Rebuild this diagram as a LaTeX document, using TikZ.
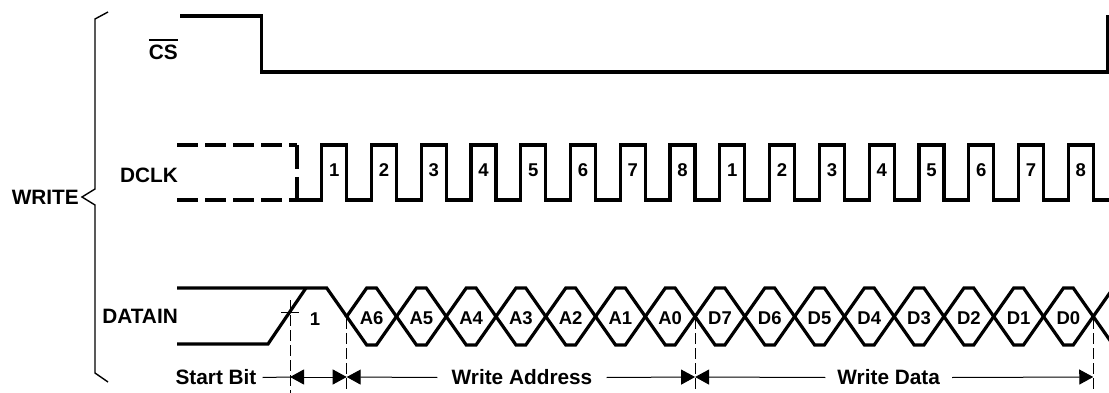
\documentclass[tikz,border=0pt]{standalone}
\usepackage{fontspec}
\setmainfont{Liberation Sans}
\usetikzlibrary{arrows.meta}
\newcommand{\barred}[1]{\setbox0\hbox{#1}\rlap{\rule[\dimexpr\ht0+4pt\relax]{\wd0}{2pt}}\box0}
\begin{document}
\begin{tikzpicture}[x=1pt,y=-1pt,
  sig/.style={line width=3.2pt, line join=miter},
  dsig/.style={line width=3.2pt, dash pattern=on 21pt off 7pt},
  thinl/.style={line width=1pt},
  brace/.style={line width=1.4pt, line join=miter},
  dv/.style={line width=1pt, dash pattern=on 11pt off 4pt},
  dim/.style={line width=1pt, >={Triangle[length=14pt,width=15pt]}},
  lab/.style={font=\fontsize{20.8}{24}\selectfont\bfseries, inner sep=0pt},
  nlab/.style={font=\fontsize{18.5}{22}\selectfont\bfseries, inner sep=0pt}]
\useasboundingbox (0,0) rectangle (1109,393);
\def\per{49.77}
% ---- labels
\node[lab, anchor=base east] (cs) at (178,60) {\barred{CS}};
\node[lab, anchor=east] (dclk) at (178,175.5) {DCLK};
\node[lab, anchor=east] (datain) at (178,316) {DATAIN};
\node[lab, anchor=east] (write) at (79,197) {WRITE};
% ---- brace
\draw[brace] (108,12) -- (95,19) -- (95,189) -- (82,197) -- (95,205) -- (95,373) -- (108,382);
% ---- CS signal
\draw[sig] (180,16) -- (261.7,16) -- (261.7,72) -- (1108,72) -- (1108,15);
% ---- DCLK signal
\draw[dsig] (177,145) -- (297,145);
\draw[dsig] (177,200) -- (297,200);
\draw[sig] (297,145) -- (297,169);
\draw[sig] (297,177) -- (297,200) -- (321.7,200)
  \foreach \k in {0,...,15} {
    -- ({321.7+\per*\k},200) -- ({321.7+\per*\k},145) -- ({346.7+\per*\k},145) -- ({346.7+\per*\k},200)
  } -- (1115,200);
\foreach \k/\lab in {0/1,1/2,2/3,3/4,4/5,5/6,6/7,7/8,8/1,9/2,10/3,11/4,12/5,13/6,14/7,15/8} {
  \node[nlab] (n\k) at ({321.7+\per*\k+12.5},170) {\lab};
}
% ---- DATAIN signal
\pgfmathsetmacro\cz{346.7}
\draw[sig] (177,344) -- (268,344) -- (306,288);
\draw[sig] (177,288) -- ({\cz-20},288) -- (\cz,316.5);
\foreach \k/\lab in {0/A6,1/A5,2/A4,3/A3,4/A2,5/A1,6/A0,7/D7,8/D6,9/D5,10/D4,11/D3,12/D2,13/D1,14/D0} {
  \pgfmathsetmacro\ca{346.7+\per*\k}
  \pgfmathsetmacro\cb{\ca+\per}
  \draw[sig] (\ca,316.5) -- ({\ca+20},288) -- ({\cb-20},288) -- (\cb,316.5) -- ({\cb-20},345) -- ({\ca+20},345) -- cycle;
  \node[nlab] (d\k) at ({(\ca+\cb)/2},318.5) {\lab};
}
\pgfmathsetmacro\cf{346.7+15*\per}
\draw[sig] ({\cf+24},283) -- ({\cf+20},288) -- (\cf,316.5) -- ({\cf+20},345) -- ({\cf+24},350);
\node[nlab] (sbit) at (315,319) {1};
\draw[thinl] (281,312) -- (299,312);
% ---- timing marks
\pgfmathsetmacro\cs{346.7+7*\per}
\coordinate (v1) at (290,377);
\coordinate (v2) at (\cz,377);
\coordinate (v3) at (\cs,377);
\coordinate (v4) at (\cf,377);
\draw[dv] (290,300) -- (290,393);
\draw[dv] (\cz,318) -- (\cz,393);
\draw[dv] (\cs,318) -- (\cs,393);
\draw[dv] (\cf,318) -- (\cf,393);
\node[lab] (sb) at (216,377.5) {Start Bit};
\node[lab] (wa) at (522,377.5) {Write Address};
\node[lab] (wd) at (888.7,377.5) {Write Data};
\draw[dim] ([xshift=6pt]sb.east) -- (v1);
\draw[dim,<->] (v1) -- (v2);
\draw[dim,->] ([xshift=-14pt]wa.west) -- (v2);
\draw[dim,->] ([xshift=14pt]wa.east) -- (v3);
\draw[dim,->] ([xshift=-12pt]wd.west) -- (v3);
\draw[dim,->] ([xshift=12pt]wd.east) -- (v4);
\end{tikzpicture}
\end{document}
